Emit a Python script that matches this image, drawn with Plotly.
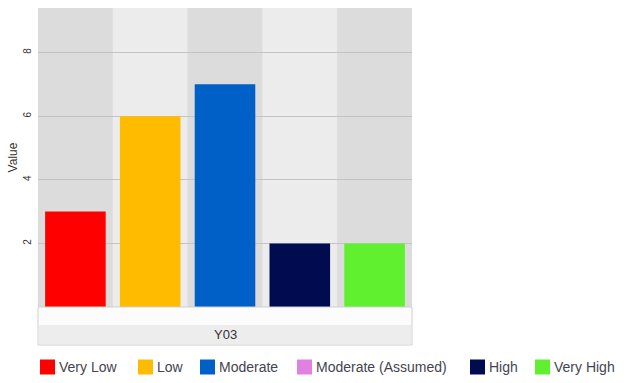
import plotly.graph_objects as go

# Risk levels, their colours and counts for period Y03
levels = ["Very Low", "Low", "Moderate", "Moderate (Assumed)", "High", "Very High"]
colors = ["#ff0000", "#ffbb00", "#0060c8", "#e080e0", "#000b50", "#60f030"]
values = [3, 6, 7, None, 2, 2]
period = "Y03"
y_ticks = [2, 4, 6, 8]

FONT = "Liberation Sans, Arial, sans-serif"
W, H = 631, 383
ML, MR, MT, MB = 38, 219, 8, 76
PW, PH = W - ML - MR, H - MT - MB

# Left edge (px) of each legend swatch along the bottom row
legend_left_px = [40, 138, 200, 297, 470, 535]
legend_mid_px = 367
SWATCH = 15


def px_x(px):
    return (px - ML) / PW


def px_y(py):
    return (H - MB - py) / PH


fig = go.Figure()

# Columns only exist for levels that have a value
slot = 0
slots = []
for name, col, val in zip(levels, colors, values):
    if val is None:
        continue
    fig.add_trace(go.Bar(x=[slot], y=[val], name=name, marker_color=col,
                         marker_line_width=0, width=0.81, showlegend=False))
    slots.append(slot)
    slot += 1

# Alternating column backgrounds
shapes = []
for i in slots:
    shapes.append(dict(type="rect", xref="x", yref="paper", x0=i - 0.5, x1=i + 0.5,
                       y0=0, y1=1, fillcolor="#dcdcdc" if i % 2 == 0 else "#ececec",
                       line_width=0, layer="below"))

# Category band underneath the plot
shapes.append(dict(type="rect", xref="paper", yref="paper", x0=0, x1=1,
                   y0=px_y(345), y1=0, fillcolor="#fcfcfc",
                   line=dict(color="#d0d0d0", width=1)))
shapes.append(dict(type="rect", xref="paper", yref="paper", x0=px_x(39), x1=px_x(411),
                   y0=px_y(344), y1=px_y(325), fillcolor="#ededed", line_width=0))

annotations = [dict(text=period, xref="paper", yref="paper", x=0.5, y=px_y(334),
                    showarrow=False, yanchor="middle",
                    font=dict(family=FONT, size=13, color="#333333"))]

# Legend row: coloured swatch followed by its label
for name, col, left in zip(levels, colors, legend_left_px):
    shapes.append(dict(type="rect", xref="paper", yref="paper",
                       x0=px_x(left), x1=px_x(left + SWATCH),
                       y0=px_y(legend_mid_px + SWATCH / 2), y1=px_y(legend_mid_px - SWATCH / 2),
                       fillcolor=col, line_width=0))
    annotations.append(dict(text=name, xref="paper", yref="paper",
                            x=px_x(left + SWATCH + 2), y=px_y(legend_mid_px),
                            xanchor="left", yanchor="middle", showarrow=False,
                            font=dict(family=FONT, size=14, color="#444450")))

fig.update_layout(
    width=W, height=H,
    margin=dict(l=ML, r=MR, t=MT, b=MB, autoexpand=False),
    paper_bgcolor="white",
    plot_bgcolor="#e4e4e4",
    shapes=shapes,
    annotations=annotations,
    showlegend=False,
    font=dict(family=FONT, size=10, color="#333333"),
    xaxis=dict(range=[-0.5, len(slots) - 0.5], showticklabels=False, showgrid=False,
               zeroline=False, fixedrange=True),
    yaxis=dict(range=[0, 9.4], tickvals=y_ticks, ticktext=[str(t) for t in y_ticks],
               tickangle=-90, tickfont=dict(family=FONT, size=10, color="#333333"),
               gridcolor="#c4c4c4", gridwidth=1, zeroline=False,
               title=dict(text="Value", font=dict(family=FONT, size=12, color="#333333"),
                          standoff=1),
               ticks="", ticklabelstandoff=4),
)

fig.write_html("out.html")
